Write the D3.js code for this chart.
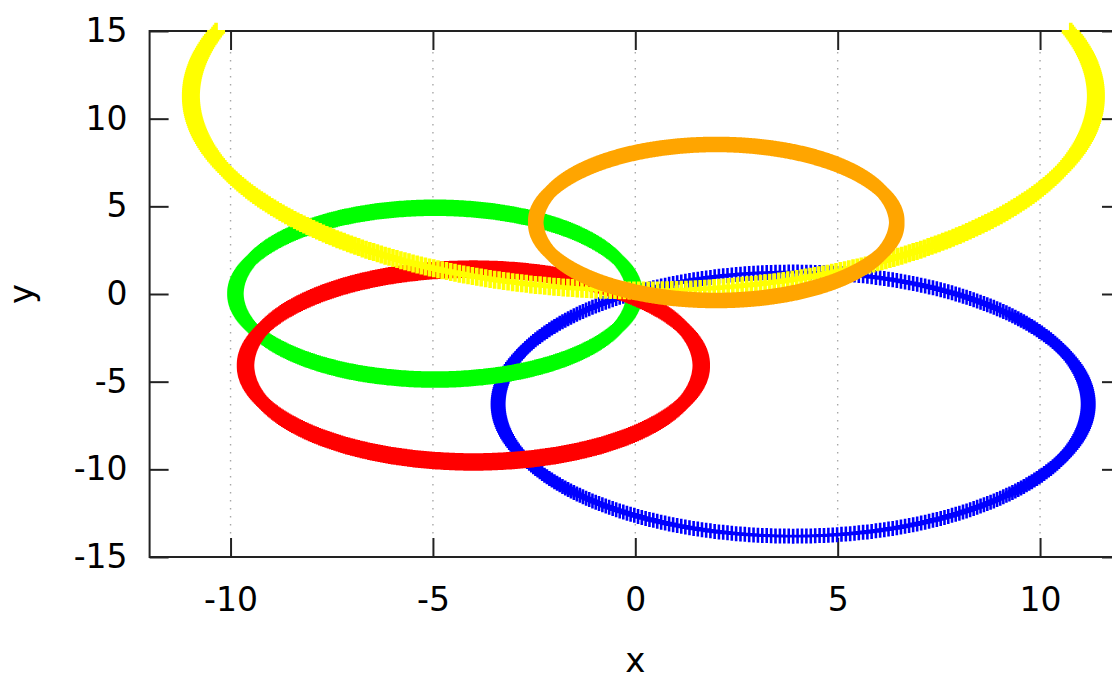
<!DOCTYPE html>
<html>
<head>
<meta charset="utf-8">
<script src="https://cdn.jsdelivr.net/npm/d3@7"></script>
<style>
  html, body { margin: 0; background: #fff; }
  svg { display: block; }
  text { font-family: "DejaVu Sans", Verdana, sans-serif; fill: #000; }
</style>
</head>
<body>
<svg id="chart" width="1112" height="681"></svg>
<script>
// Axis ticks
const xTicks = [-10, -5, 0, 5, 10];
const yTicks = [-15, -10, -5, 0, 5, 10, 15];
const xDomain = [-12, 12];
const yDomain = [-15, 15];

// Ellipses, in plotting order (first drawn is lowest)
const curveColors  = ["#0000ff", "#00ff00", "#ff0000", "#ffff00", "#ffa500"];
const centerX      = [3.9,  -4.95, -4.0,  0.2,   2.0];
const centerY      = [-6.28, 0.02, -4.08, 11.3,  4.08];
const radiusX      = [7.29,  4.93,  5.63, 11.18, 4.46];
const radiusY      = [7.53,  4.9,   5.5,  11.1,  4.45];
const sampleCounts = [420,   500,   500,  600,   1000];

// Marker look per curve: plus-sign arm span and stroke width (px)
const markerSpan  = [15, 16.5, 17.5, 18, 15.5];
const markerWidth = [2.6, 2.6, 3, 3.6, 4];

const svg = d3.select("#chart");
const plotLeft = 149.6, plotRight = 1121, plotTop = 31, plotBottom = 557;
const tickLen = 19;

const x = d3.scaleLinear().domain(xDomain).range([plotLeft, plotRight]);
const y = d3.scaleLinear().domain(yDomain).range([plotBottom, plotTop]);

// tick labels use a plain hyphen for negatives
const plainNumber = d => String(d);

// vertical dotted grid
svg.append("g").selectAll("line").data(xTicks).join("line")
  .attr("x1", d => x(d)).attr("x2", d => x(d))
  .attr("y1", plotTop + tickLen + 2).attr("y2", plotBottom - tickLen)
  .attr("stroke", "#a8a8a8").attr("stroke-width", 1.4)
  .attr("stroke-dasharray", "1.4,6.6");

// axes with inward ticks
function styleAxis(g) {
  g.select(".domain").remove();
  g.selectAll(".tick line").attr("stroke", "#222").attr("stroke-width", 2);
  g.selectAll(".tick text").attr("font-size", 33).attr("fill", "#000")
    .style("font-family", "'DejaVu Sans', Verdana, sans-serif");
}

svg.append("g").attr("transform", `translate(0,${plotBottom})`)
  .call(d3.axisBottom(x).tickValues(xTicks).tickFormat(plainNumber)
    .tickSizeInner(-tickLen).tickSizeOuter(0).tickPadding(31))
  .call(styleAxis);
svg.append("g").attr("transform", `translate(0,${plotTop})`)
  .call(d3.axisTop(x).tickValues(xTicks).tickSizeInner(-tickLen).tickSizeOuter(0).tickFormat(""))
  .call(styleAxis);
svg.append("g").attr("transform", `translate(${plotLeft},0)`)
  .call(d3.axisLeft(y).tickValues(yTicks).tickFormat(plainNumber)
    .tickSizeInner(-tickLen).tickSizeOuter(0).tickPadding(22))
  .call(styleAxis);
svg.append("g").attr("transform", `translate(${plotRight},0)`)
  .call(d3.axisRight(y).tickValues(yTicks).tickSizeInner(-tickLen).tickSizeOuter(0).tickFormat(""))
  .call(styleAxis);

// plot border
svg.append("rect")
  .attr("x", plotLeft).attr("y", plotTop)
  .attr("width", plotRight - plotLeft).attr("height", plotBottom - plotTop)
  .attr("fill", "none").attr("stroke", "#222").attr("stroke-width", 2);

// axis titles
svg.append("text").attr("x", x(0)).attr("y", 672)
  .attr("text-anchor", "middle").attr("font-size", 34).text("x");
svg.append("text").attr("transform", `translate(33,${y(0)}) rotate(-90)`)
  .attr("text-anchor", "middle").attr("font-size", 34).text("y");

// curves drawn as plus-sign point markers
const curves = svg.append("g");
curveColors.forEach((color, i) => {
  const n = sampleCounts[i];
  const pts = d3.range(n).map(k => {
    const t = 2 * Math.PI * k / n;
    return [centerX[i] + radiusX[i] * Math.cos(t), centerY[i] + radiusY[i] * Math.sin(t)];
  }).filter(p => p[0] >= xDomain[0] && p[0] <= xDomain[1] && p[1] >= yDomain[0] && p[1] <= yDomain[1]);

  const h = markerSpan[i] / 2;
  const path = d3.path();
  pts.forEach(p => {
    const px = x(p[0]), py = y(p[1]);
    path.moveTo(px - h, py); path.lineTo(px + h, py);
    path.moveTo(px, py - h); path.lineTo(px, py + h);
  });
  curves.append("path")
    .attr("d", path.toString())
    .attr("fill", "none")
    .attr("stroke", color)
    .attr("stroke-width", markerWidth[i]);
});
</script>
</body>
</html>
